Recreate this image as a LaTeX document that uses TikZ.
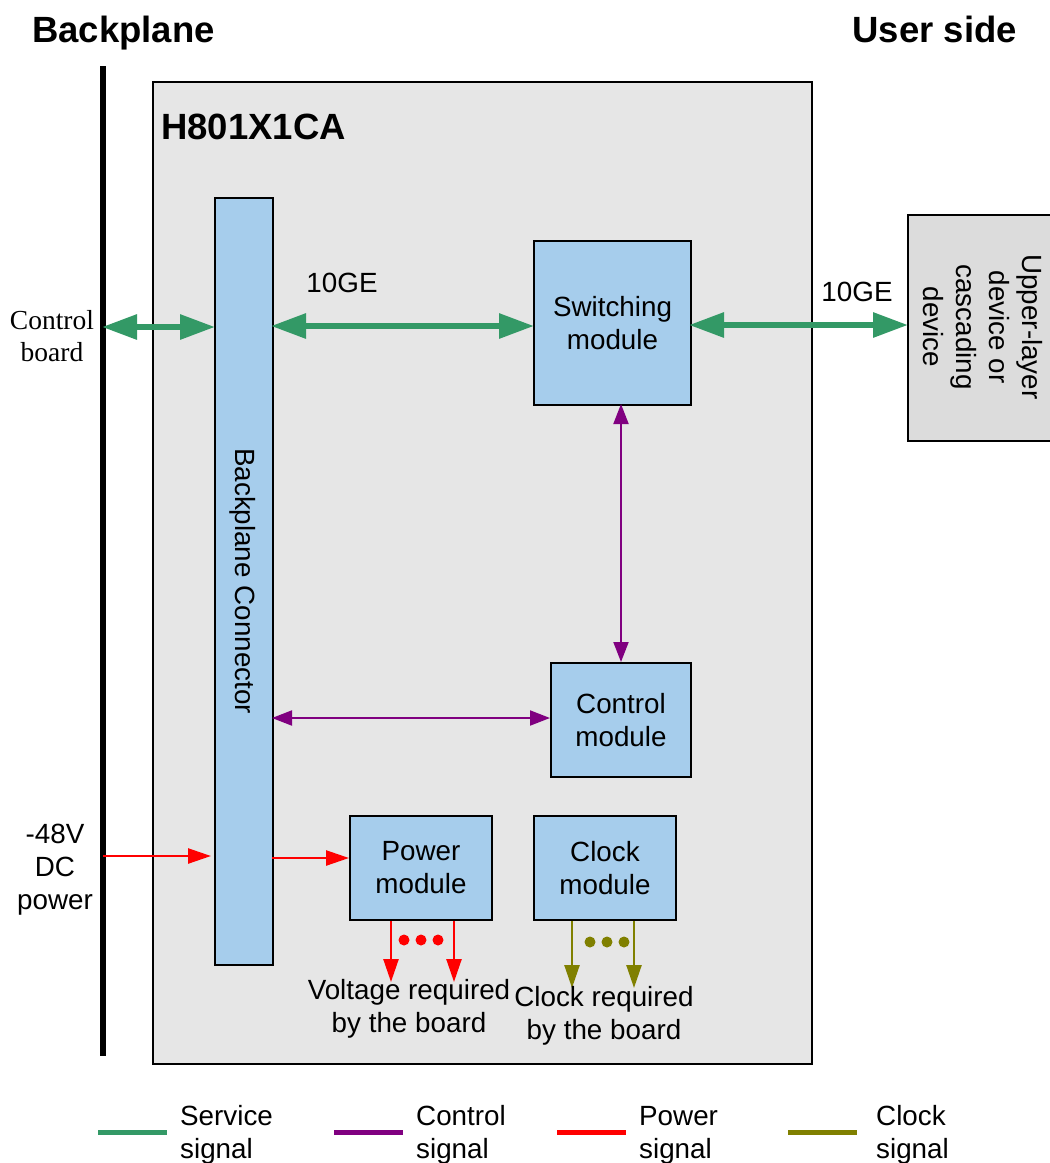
\documentclass[tikz,border=0pt]{standalone}
\usepackage{fontspec}
\setmainfont{Liberation Sans}
\newfontfamily\seriffont{Liberation Serif}
\usetikzlibrary{arrows.meta}
\definecolor{svc}{HTML}{339966}
\definecolor{ctl}{HTML}{800080}
\definecolor{pwr}{HTML}{FF0000}
\definecolor{clk}{HTML}{808000}
\definecolor{modfill}{HTML}{A6CDEC}
\definecolor{boardfill}{HTML}{E6E6E6}
\definecolor{devfill}{HTML}{DCDCDC}
\tikzset{
  txt/.style={font=\fontsize{27.8}{33}\selectfont, align=center, inner sep=0pt},
  title/.style={font=\fontsize{36.5}{42}\selectfont\bfseries, inner sep=0pt},
  module/.style={draw=black, line width=2pt, fill=modfill, inner sep=0pt},
  svcarrow/.style={svc, line width=6pt, {Triangle[length=35pt,width=24pt]}-{Triangle[length=35pt,width=24pt]}, shorten <=-1pt, shorten >=-1pt},
  ctlarrow/.style={ctl, line width=2pt, {Triangle[length=20pt,width=15pt]}-{Triangle[length=20pt,width=15pt]}},
  pwrarrow/.style={pwr, line width=2.5pt, -{Triangle[length=23pt,width=15pt]}},
  clkarrow/.style={clk, line width=2.5pt, -{Triangle[length=23pt,width=15pt]}},
  legline/.style={line width=5pt},
  legtxt/.style={txt, align=left, anchor=west},
}
\begin{document}
\begin{tikzpicture}[x=1pt,y=-1pt]
\useasboundingbox (0,0) rectangle (1050,1163);
% titles
\node[title, anchor=base west] (tbp) at (32,42) {Backplane};
\node[title, anchor=base east] (tus) at (1017,42) {User side};
% backplane line
\coordinate (bpt) at (103,66);
\coordinate (bpb) at (103,1056);
\draw[line width=6pt] (bpt) -- (bpb);
% board
\node[draw=black, line width=1.5pt, fill=boardfill, minimum width=659pt, minimum height=982pt, anchor=north west, inner sep=0pt] (board) at (152,81) {};
\node[title, anchor=base west] (bname) at (161,139) {H801X1CA};
% upper device
\node[draw=black, line width=2pt, fill=devfill, minimum width=160pt, minimum height=226pt, anchor=north west, inner sep=0pt] (dev) at (907,214) {};
\node[txt, rotate=-90] (devtxt) at (983,327) {Upper-layer\\device or\\cascading\\device};
% modules
\node[module, minimum width=58pt, minimum height=767pt, anchor=north west] (bpc) at (214,197) {};
\node[txt, rotate=-90] (bpctxt) at (243,581) {Backplane Connector};
\node[module, minimum width=157pt, minimum height=164pt, anchor=north west, txt] (sw) at (533,240) {Switching\\module};
\node[module, minimum width=140pt, minimum height=114pt, anchor=north west, txt] (cm) at (550,662) {Control\\module};
\node[module, minimum width=142pt, minimum height=104pt, anchor=north west, txt] (pm) at (349,815) {Power\\module};
\node[module, minimum width=142pt, minimum height=104pt, anchor=north west, txt] (ck) at (533,815) {Clock\\module};
% side labels
\node[txt, font=\fontsize{27.5}{32}\selectfont\seriffont] (cb) at (52,336) {Control\\board};
\node[txt] (dc) at (55,870) {-48V\\DC\\power};
% service arrows
\coordinate (s1a) at (103,327);
\draw[svcarrow] (s1a) -- (bpc.west |- s1a);
\coordinate (s2a) at (272,326);
\draw[svcarrow] (s2a) -- (sw.west |- s2a);
\coordinate (s3a) at (690,325);
\draw[svcarrow] (s3a) -- (dev.west |- s3a);
\node[txt] (ge1) at (342,283) {10GE};
\node[txt] (ge2) at (857,292) {10GE};
% control arrows
\coordinate (c1) at (621,404);
\draw[ctlarrow] (c1) -- (cm.north -| c1);
\coordinate (c2) at (272,718);
\draw[ctlarrow] (c2) -- (cm.west |- c2);
% power arrows
\coordinate (p1) at (103,856);
\draw[pwrarrow] (p1) -- (211,856);
\coordinate (p2) at (272,858);
\draw[pwrarrow] (p2) -- (pm.west |- p2);
\coordinate (pd1) at (391,982);
\coordinate (pd2) at (454,982);
\draw[pwrarrow] (pm.south -| pd1) -- (pd1);
\draw[pwrarrow] (pm.south -| pd2) -- (pd2);
\foreach \x in {404,421,438} \fill[pwr] (\x,940) circle (5.5pt);
\node[txt] (vreq) at (409,1009) {Voltage required\\by the board};
% clock arrows
\coordinate (kd1) at (572,988);
\coordinate (kd2) at (634,988);
\draw[clkarrow] (ck.south -| kd1) -- (kd1);
\draw[clkarrow] (ck.south -| kd2) -- (kd2);
\foreach \x in {590,607,624} \fill[clk] (\x,942) circle (5.5pt);
\node[txt] (creq) at (604,1016) {Clock required\\by the board};
% legend
\draw[legline, svc] (98,1132) -- (167,1132);
\node[legtxt] (l1) at (180,1135) {Service\\signal};
\draw[legline, ctl] (334,1132) -- (403,1132);
\node[legtxt] (l2) at (416,1135) {Control\\signal};
\draw[legline, pwr] (557,1132) -- (626,1132);
\node[legtxt] (l3) at (639,1135) {Power\\signal};
\draw[legline, clk] (788,1132) -- (857,1132);
\node[legtxt] (l4) at (876,1135) {Clock\\signal};
\end{tikzpicture}
\end{document}
